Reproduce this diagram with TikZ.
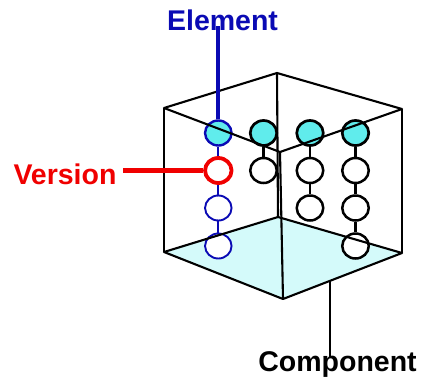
\documentclass[tikz,border=0pt]{standalone}
\usepackage{fontspec}
\setmainfont{Liberation Sans}
\definecolor{topcyan}{RGB}{96,236,236}
\definecolor{facecyan}{RGB}{212,250,250}
\definecolor{eblue}{RGB}{10,10,180}
\definecolor{vred}{RGB}{240,0,0}
\tikzset{
  cubeedge/.style={draw=black, line width=2.1pt, line join=round},
  ball/.style={ellipse, minimum width=26.5pt, minimum height=25pt, inner sep=0pt, fill=white, draw=black, line width=2.5pt},
  topball/.style={ball, fill=topcyan, line width=2.7pt},
  blueball/.style={ball, draw=eblue, line width=1.9pt},
  bluetopball/.style={ball, draw=eblue, fill=topcyan, line width=2.4pt},
  redball/.style={ball, draw=vred, line width=3.8pt},
  link/.style={draw=black, line width=2.2pt},
  bluelink/.style={draw=eblue, line width=2pt},
  lbl/.style={font=\fontsize{28.5}{30}\selectfont\bfseries, inner sep=0pt, anchor=base},
}
\usetikzlibrary{shapes.geometric}
\begin{document}
\begin{tikzpicture}[x=1pt,y=-1pt]
\useasboundingbox (0,0) rectangle (422,378);
% cube corners
\coordinate (TL) at (164,108);
\coordinate (TB) at (277,73);
\coordinate (TR) at (402,109);
\coordinate (TF) at (280,152);
\coordinate (BL) at (164,252);
\coordinate (BB) at (278,217);
\coordinate (BR) at (402,253);
\coordinate (BF) at (283,299);
% bottom face
\fill[facecyan] (BL) -- (BB) -- (BR) -- (BF) -- cycle;
% column 1
\node[bluetopball] (c11) at (218.3,133) {};
\node[redball] (c12) at (218.3,170.5) {};
\node[blueball] (c13) at (218.3,208) {};
\node[blueball] (c14) at (218.3,246) {};
\draw[bluelink] (c11.south) -- (c12.north);
\draw[bluelink] (c12.south) -- (c13.north);
\draw[bluelink] (c13.south) -- (c14.north);
% column 2
\node[topball] (c21) at (263.5,133) {};
\node[ball] (c22) at (263.5,170.5) {};
\draw[link] (c21.south) -- (c22.north);
% column 3
\node[topball] (c31) at (310,133) {};
\node[ball] (c32) at (310,170.5) {};
\node[ball] (c33) at (310,208) {};
\draw[link] (c31.south) -- (c32.north);
\draw[link] (c32.south) -- (c33.north);
% column 4
\node[topball] (c41) at (355.5,133) {};
\node[ball] (c42) at (355.5,170.5) {};
\node[ball] (c43) at (355.5,208) {};
\node[ball] (c44) at (355.5,246) {};
\draw[link] (c41.south) -- (c42.north);
\draw[link] (c42.south) -- (c43.north);
\draw[link] (c43.south) -- (c44.north);
% edges
\draw[cubeedge] (TL) -- (TB) -- (TR) -- (TF) -- cycle;
\draw[cubeedge] (BL) -- (BB) -- (BR) -- (BF) -- cycle;
\draw[cubeedge] (TL) -- (BL);
\draw[cubeedge] (TR) -- (BR);
\draw[cubeedge] (TB) -- (BB);
\draw[cubeedge] (TF) -- (BF);
% labels
\node[lbl, text=eblue] (el) at (222.5,30.5) {Element};
\node[lbl, text=vred] (ver) at (65,184) {Version};
\node[lbl] (comp) at (337.5,371) {Component};
% connectors
\draw[draw=eblue, line width=4.2pt] (c11.north) -- ([yshift=5pt]c11.north |- el.south);
\draw[draw=vred, line width=4.2pt] (c12.west) -- ([xshift=6pt]c12.west -| ver.east);
\coordinate (cpt) at (330,281);
\draw[draw=black, line width=1.8pt] (cpt) -- ([yshift=-6pt]cpt |- comp.north);
\end{tikzpicture}
\end{document}
